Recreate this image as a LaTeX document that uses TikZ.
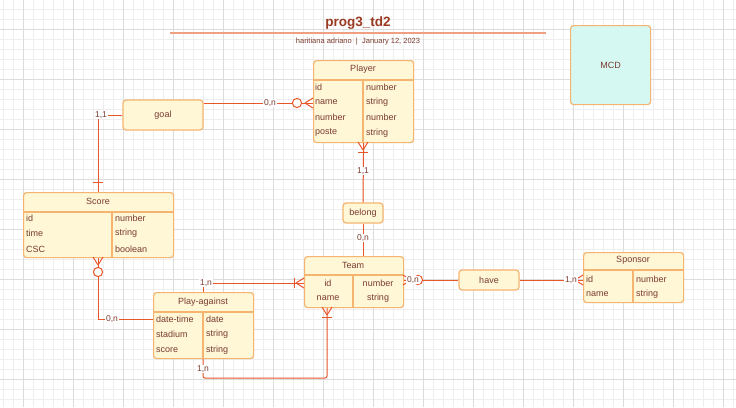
\documentclass[tikz,border=0pt]{standalone}
\usepackage{fontspec}
\setmainfont{Liberation Sans}
\definecolor{boxfill}{HTML}{FFF7D6}
\definecolor{boxedge}{HTML}{F5B570}
\definecolor{txt}{HTML}{7A3B2E}
\definecolor{wire}{HTML}{E8562A}
\definecolor{ttl}{HTML}{9B3A22}
\definecolor{rulec}{HTML}{F0A080}
\definecolor{mcdfill}{HTML}{D6F8F3}
\definecolor{gridminor}{HTML}{EEEEEE}
\definecolor{gridmajor}{HTML}{DCDCDC}
\newcommand\erfield[3]{\node[fieldtext,anchor=west] at (#1,#2) {#3};}
\newcommand\erfieldc[3]{\node[fieldtext] at (#1,#2) {#3};}
\begin{document}
\begin{tikzpicture}[x=1pt,y=-1pt,
  entbox/.style={draw=boxedge,fill=boxfill,line width=1.2pt,rounded corners=3pt,anchor=north west,inner sep=0pt},
  relbox/.style={draw=boxedge,fill=boxfill,line width=1.2pt,rounded corners=3pt,inner sep=0pt,text=txt,font=\fontsize{9}{10}\selectfont},
  entline/.style={draw=boxedge,line width=1.2pt},
  fieldtext/.style={text=txt,font=\fontsize{9}{10}\selectfont,inner sep=0pt},
  headtext/.style={text=txt,font=\fontsize{9}{10}\selectfont,inner sep=0pt},
  conn/.style={draw=wire,line width=1pt},
  card/.style={text=txt,fill=white,font=\fontsize{8.5}{10}\selectfont,inner sep=0.6pt},
  minor/.style={draw=gridminor,line width=0.7pt},
  major/.style={draw=gridmajor,line width=0.9pt}]
\useasboundingbox (0,0) rectangle (736,407);
\fill[white] (0,0) rectangle (736,407);
% background grid
\foreach \x in {3,13,...,733} \draw[minor] (\x,0) -- (\x,407);
\foreach \y in {9,19,...,399} \draw[minor] (0,\y) -- (736,\y);
\foreach \x in {23,73,...,723} \draw[major] (\x,0) -- (\x,407);
\foreach \y in {29,79,...,379} \draw[major] (0,\y) -- (736,\y);

% title block
\node[text=ttl,font=\fontsize{13.5}{15}\selectfont\bfseries] (title) at (358,23) {prog3\_td2};
\draw[draw=rulec,line width=1.3pt] (170,33) -- (546,33);
\node[text=txt,font=\fontsize{7.5}{8}\selectfont] (subtitle) at (358,42) {haritiana adriano \ | \ January 12, 2023};

% MCD tag
\node[entbox,fill=mcdfill,minimum width=80pt,minimum height=79pt] (mcd) at (570,25) {};
\node[text=txt,font=\fontsize{9}{10}\selectfont] at (mcd.center) {MCD};

% Player entity
\node[entbox,minimum width=100pt,minimum height=82pt] (player) at (313,60) {};
\draw[entline] (313,80) -- (413,80);
\draw[entline] (363,80) -- (363,142);
\node[headtext] at (363,69) {Player};
\erfield{315}{87}{id}\erfield{366}{87}{number}
\erfield{315}{102}{name}\erfield{366}{102}{string}
\erfield{315}{117}{number}\erfield{366}{117}{number}
\erfield{315}{133}{poste}\erfield{366}{133}{string}

% Score entity
\node[entbox,minimum width=150pt,minimum height=65pt] (score) at (23,192) {};
\draw[entline] (23,212) -- (173,212);
\draw[entline] (112,212) -- (112,257);
\node[headtext] at (98,201) {Score};
\erfield{26}{218}{id}\erfield{115}{218}{number}
\erfield{26}{233}{time}\erfield{115}{233}{string}
\erfield{26}{249}{CSC}\erfield{115}{249}{boolean}

% Play-against entity
\node[entbox,minimum width=100pt,minimum height=66pt] (play) at (153,292) {};
\draw[entline] (153,312) -- (253,312);
\draw[entline] (203,312) -- (203,358);
\node[headtext] at (203,302) {Play-against};
\erfield{156}{319}{date-time}\erfield{206}{319}{date}
\erfield{156}{334}{stadium}\erfield{206}{334}{string}
\erfield{156}{350}{score}\erfield{206}{350}{string}

% Team entity
\node[entbox,minimum width=99pt,minimum height=51pt] (team) at (304,256) {};
\draw[entline] (304,275) -- (403,275);
\draw[entline] (353,275) -- (353,307);
\node[headtext] at (353,265) {Team};
\erfieldc{328}{283}{id}\erfieldc{378}{283}{number}
\erfieldc{328}{298}{name}\erfieldc{378}{298}{string}

% Sponsor entity
\node[entbox,minimum width=100pt,minimum height=50pt] (sponsor) at (583,252) {};
\draw[entline] (583,270) -- (683,270);
\draw[entline] (633,270) -- (633,302);
\node[headtext] at (633,260) {Sponsor};
\erfield{586}{279}{id}\erfield{636}{279}{number}
\erfield{586}{294}{name}\erfield{636}{294}{string}

% relationships
\node[relbox,minimum width=80pt,minimum height=30pt] (goal) at (163,115) {goal};
\node[relbox,minimum width=40pt,minimum height=20pt] (belong) at (363,213) {belong};
\node[relbox,minimum width=60pt,minimum height=20pt] (have) at (489,280) {have};

% routing points
\coordinate (gp) at (0,103);
\coordinate (sx) at (98,0);
\coordinate (pa) at (203,0);
\coordinate (tb) at (327,0);
\coordinate (low) at (0,378);
\coordinate (mid) at (0,319);
\coordinate (top) at (0,283);

% goal -- Player (zero or many)
\draw[conn] (goal.east |- gp) -- (player.west |- gp);
\draw[conn,fill=white] (297,103) circle (4.6);
\draw[conn] (305,103) -- (313,98) (305,103) -- (313,108);
\node[card] at (270,103) {0,n};

% goal -- Score (exactly one)
\draw[conn] (goal.west) -- (goal.west -| sx) -- (score.north -| sx);
\draw[conn] (93,182) -- (103,182);
\node[card] at (101,115) {1,1};

% Score -- Play-against (zero or many)
\draw[conn] (score.south -| sx) -- (sx |- mid) -- (play.west |- mid);
\draw[conn] (98,265) -- (93,257) (98,265) -- (103,257);
\draw[conn,fill=white] (98,272) circle (4.6);
\node[card] at (112,319) {0,n};

% Play-against -- Team (one or many)
\draw[conn] (play.north -| pa) -- (pa |- top) -- (team.west |- top);
\draw[conn] (296,283) -- (304,278) (296,283) -- (304,288);
\draw[conn] (294,278) -- (294,288);
\node[card] at (206,283) {1,n};

% Play-against -- Team, lower route (one or many)
\draw[conn,rounded corners=2pt] (play.south -| pa) -- (pa |- low) -- (tb |- low) -- (team.south -| tb);
\draw[conn] (327,315) -- (322,307) (327,315) -- (332,307);
\draw[conn] (322,317) -- (332,317);
\node[card] at (203,369) {1,n};

% Player -- belong (one or many)
\draw[conn] (player.south) -- (belong.north);
\draw[conn] (363,150) -- (358,142) (363,150) -- (368,142);
\draw[conn] (358,152) -- (368,152);
\node[card] at (363,171) {1,1};

% belong -- Team
\draw[conn] (belong.south) -- (team.north -| belong.south);
\node[card] at (363,238) {0,n};

% Team -- have (zero or many)
\draw[conn] (team.east |- have.west) -- (have.west);
\draw[conn] (411,280) -- (403,275) (411,280) -- (403,285);
\draw[conn,fill=white] (418,280) circle (4.6);
\node[card] at (413,280) {0,n};

% have -- Sponsor (one or many)
\draw[conn] (have.east) -- (sponsor.west |- have.east);
\draw[conn] (575,280) -- (583,275) (575,280) -- (583,285);
\node[card] at (571,280) {1,n};
\end{tikzpicture}
\end{document}
